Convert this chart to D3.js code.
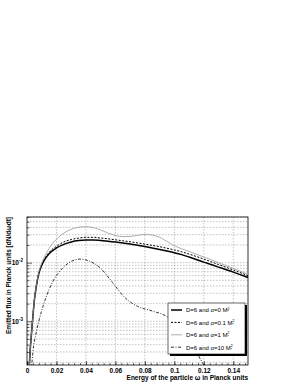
<!DOCTYPE html>
<html>
<head>
<meta charset="utf-8">
<script src="https://cdn.jsdelivr.net/npm/d3@7"></script>
<style>
  body { margin: 0; background: #fff; }
  svg { display: block; font-family: "Liberation Sans", Arial, sans-serif; }
</style>
</head>
<body>
<svg id="chart" width="298" height="385"></svg>
<script>
// energy values (Planck units)
var omega = [0.0015, 0.002, 0.003, 0.004, 0.005, 0.006, 0.008, 0.01, 0.0125, 0.015, 0.02, 0.025, 0.03, 0.035,
             0.04, 0.045, 0.05, 0.055, 0.06, 0.065, 0.07, 0.075, 0.08, 0.085, 0.09, 0.095, 0.1, 0.105,
             0.11, 0.12, 0.13, 0.14, 0.15];
// D=6, alpha=0
var fluxA0 = [1.6e-4, 2.8e-4, 6e-4, 1.2e-3, 2.3e-3, 3.5e-3, 6.5e-3, 9e-3, 1.18e-2, 1.42e-2, 1.78e-2, 2.05e-2, 2.25e-2, 2.38e-2,
              2.43e-2, 2.43e-2, 2.38e-2, 2.32e-2, 2.25e-2, 2.17e-2, 2.08e-2, 1.98e-2, 1.88e-2, 1.78e-2, 1.68e-2, 1.58e-2, 1.48e-2, 1.37e-2,
              1.25e-2, 1.02e-2, 8.4e-3, 6.9e-3, 5.6e-3];
// D=6, alpha=0.1
var fluxA01 = [1.6e-4, 2.8e-4, 6e-4, 1.2e-3, 2.3e-3, 3.5e-3, 6.6e-3, 9.2e-3, 1.22e-2, 1.5e-2, 1.9e-2, 2.25e-2, 2.48e-2, 2.62e-2,
               2.7e-2, 2.7e-2, 2.63e-2, 2.55e-2, 2.45e-2, 2.36e-2, 2.27e-2, 2.17e-2, 2.07e-2, 1.97e-2, 1.87e-2, 1.76e-2, 1.65e-2, 1.53e-2,
               1.4e-2, 1.15e-2, 9.3e-3, 7.5e-3, 6.0e-3];
// D=6, alpha=1
var fluxA1 = [1.6e-4, 2.8e-4, 6e-4, 1.2e-3, 2.3e-3, 3.6e-3, 6.8e-3, 9.8e-3, 1.35e-2, 1.75e-2, 2.5e-2, 3.2e-2, 3.7e-2, 4.0e-2,
              4.1e-2, 3.95e-2, 3.6e-2, 3.2e-2, 2.9e-2, 2.78e-2, 2.8e-2, 2.92e-2, 3.02e-2, 2.95e-2, 2.7e-2, 2.3e-2, 1.95e-2, 1.72e-2,
              1.55e-2, 1.25e-2, 1.0e-2, 8e-3, 6.3e-3];
// D=6, alpha=10
var omegaA10 = [0.003, 0.004, 0.006, 0.008, 0.012, 0.018, 0.024, 0.03, 0.036, 0.042, 0.05, 0.058, 0.066, 0.075,
                0.085, 0.095, 0.105, 0.112, 0.118, 0.124];
var fluxA10 = [1.5e-4, 3e-4, 6e-4, 1e-3, 2.2e-3, 5e-3, 8e-3, 1.05e-2, 1.15e-2, 1.07e-2, 8e-3, 4.6e-3, 2.6e-3, 1.8e-3,
               1.5e-3, 1.2e-3, 7e-4, 4e-4, 2.2e-4, 1.2e-4];
var xTicks = [0, 0.02, 0.04, 0.06, 0.08, 0.1, 0.12, 0.14];
var yLabelTicks = [1e-2, 1e-3];
var legendLabels = ["D=6 and \u03b1=0 M", "D=6 and \u03b1=0.1 M", "D=6 and \u03b1=1 M", "D=6 and \u03b1=10 M"];

var svg = d3.select("#chart");
var pLeft = 27, pRight = 248, pTop = 217, pBottom = 365;

var x = d3.scaleLinear().domain([0, 0.15]).range([pLeft, pRight]);
var y = d3.scaleLog().domain([1.8e-4, 6e-2]).range([pBottom, pTop]);

svg.append("rect").attr("width", 298).attr("height", 385).attr("fill", "#fff");

// grid
var yGrid = [];
[1e-4, 1e-3, 1e-2].forEach(function(d){
  for (var k = 1; k < 10; k++) {
    var v = d * k;
    if (v >= y.domain()[0] && v <= y.domain()[1]) yGrid.push(v);
  }
});
svg.append("g").selectAll("line").data(yGrid).enter().append("line")
  .attr("x1", pLeft).attr("x2", pRight)
  .attr("y1", function(d){ return y(d); }).attr("y2", function(d){ return y(d); })
  .attr("stroke", "#999").attr("stroke-width", 0.6).attr("stroke-dasharray", "1.5,1.5");
svg.append("g").selectAll("line").data(xTicks.slice(1)).enter().append("line")
  .attr("x1", function(d){ return x(d); }).attr("x2", function(d){ return x(d); })
  .attr("y1", pTop).attr("y2", pBottom)
  .attr("stroke", "#999").attr("stroke-width", 0.6).attr("stroke-dasharray", "1.5,1.5");

// axes
var xMinor = svg.append("g").attr("transform", "translate(0," + pBottom + ")")
  .call(d3.axisBottom(x).tickValues(d3.range(0, 0.1501, 0.004)).tickSize(-2).tickFormat(""));
xMinor.select(".domain").remove();
xMinor.selectAll(".tick line").attr("stroke", "#000").attr("stroke-width", 0.6);
var xMajor = svg.append("g").attr("transform", "translate(0," + pBottom + ")")
  .call(d3.axisBottom(x).tickValues(xTicks).tickSize(-4).tickPadding(3)
    .tickFormat(function(d){ return d === 0 ? "0" : String(+d.toFixed(2)); }));
xMajor.select(".domain").remove();
xMajor.selectAll(".tick line").attr("stroke", "#000").attr("stroke-width", 0.6);
xMajor.selectAll("text").attr("font-size", 6.5).attr("font-weight", "bold").attr("fill", "#000");

var yAxis = svg.append("g").attr("transform", "translate(" + pLeft + ",0)")
  .call(d3.axisLeft(y).tickValues(yGrid).tickSize(0).tickFormat(""));
yAxis.select(".domain").remove();
yAxis.selectAll(".tick line").attr("stroke", "#000").attr("stroke-width", 0.6)
  .attr("x2", function(d){ return yLabelTicks.indexOf(d) >= 0 ? 5 : 2.5; });

yLabelTicks.forEach(function(v){
  var t = svg.append("text").attr("x", 23).attr("y", y(v) + 2.5)
    .attr("text-anchor", "end").attr("font-size", 6.5).attr("font-weight", "bold");
  t.append("tspan").text("10");
  t.append("tspan").attr("dy", -3).attr("font-size", 4.5).text("-" + Math.round(-Math.log10(v)));
});

// frame
svg.append("rect").attr("x", pLeft).attr("y", pTop).attr("width", pRight - pLeft).attr("height", pBottom - pTop)
  .attr("fill", "none").attr("stroke", "#000").attr("stroke-width", 0.8);

// curves
svg.append("clipPath").attr("id", "clip").append("rect")
  .attr("x", pLeft).attr("y", pTop).attr("width", pRight - pLeft).attr("height", pBottom - pTop);
var line = d3.line().curve(d3.curveMonotoneX)
  .x(function(d){ return x(d[0]); }).y(function(d){ return y(d[1]); });
var series = [
  { xs: omega, ys: fluxA0, color: "#000", width: 1.5, dash: null },
  { xs: omega, ys: fluxA01, color: "#000", width: 1, dash: "2,1.5" },
  { xs: omega, ys: fluxA1, color: "#999", width: 0.8, dash: null },
  { xs: omegaA10, ys: fluxA10, color: "#000", width: 0.8, dash: "3,1.5,1,1.5" }
];
var plot = svg.append("g").attr("clip-path", "url(#clip)");
series.forEach(function(s){
  plot.append("path").datum(d3.zip(s.xs, s.ys)).attr("d", line)
    .attr("fill", "none").attr("stroke", s.color).attr("stroke-width", s.width)
    .attr("stroke-dasharray", s.dash);
});

// legend
var lx = 168, ly = 303, lw = 77, lh = 51;
svg.append("rect").attr("x", lx + 2).attr("y", ly + 2).attr("width", lw).attr("height", lh).attr("fill", "#000");
svg.append("rect").attr("x", lx).attr("y", ly).attr("width", lw).attr("height", lh)
  .attr("fill", "#fff").attr("stroke", "#000").attr("stroke-width", 0.6);
series.forEach(function(s, i){
  var yy = ly + 7 + i * 12.4;
  svg.append("line").attr("x1", lx + 3).attr("x2", lx + 14).attr("y1", yy).attr("y2", yy)
    .attr("stroke", s.color).attr("stroke-width", s.width).attr("stroke-dasharray", s.dash);
  var t = svg.append("text").attr("x", lx + 18).attr("y", yy + 2.3).attr("font-size", 6);
  t.append("tspan").text(legendLabels[i]);
  t.append("tspan").attr("dy", 1).attr("font-size", 3.5).text("*");
  t.append("tspan").attr("dy", -3.8).attr("dx", -1.6).attr("font-size", 4).text("2");
});

// axis titles
svg.append("text").attr("x", pRight).attr("y", 380).attr("text-anchor", "end")
  .attr("font-size", 6.5).attr("font-weight", "bold").text("Energy of the particle \u03c9 in Planck units");
svg.append("text").attr("transform", "translate(11," + pTop + ") rotate(-90)")
  .attr("text-anchor", "end").attr("font-size", 6.5).attr("font-weight", "bold")
  .text("Emitted flux in Planck units [dN/d\u03c9dt]");
</script>
</body>
</html>
